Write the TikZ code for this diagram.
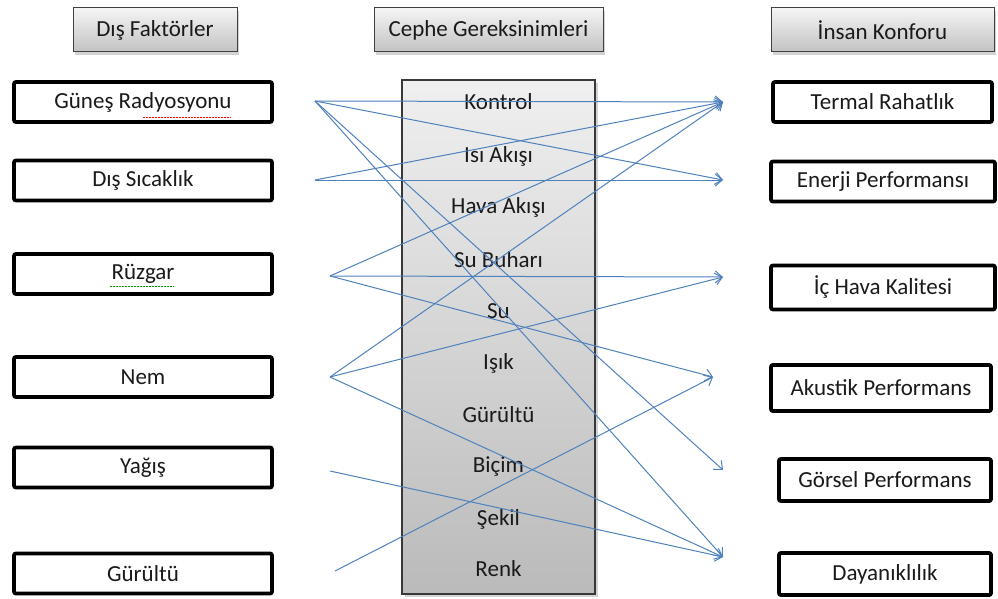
\documentclass[tikz,border=0pt]{standalone}
\usepackage{fontspec}
\setmainfont{Carlito}
\usetikzlibrary{arrows.meta,shadows,calc}
\definecolor{arrowblue}{HTML}{4F81BD}
\definecolor{txt}{HTML}{1A1A1A}
\tikzset{
  hdr/.style={draw=black!75, line width=1pt, top color=black!4, bottom color=black!24,
    minimum height=44pt, inner sep=0pt, text=txt,
    drop shadow={shadow xshift=2pt, shadow yshift=-3pt, opacity=0.35}},
  fbox/.style={draw=black, line width=3.8pt, rounded corners=2pt, fill=white,
    minimum height=40pt, inner sep=0pt, text=txt},
  req/.style={text=txt, inner sep=0pt},
  link/.style={draw=arrowblue, line width=1pt, -{Straight Barb[length=7pt,width=12pt,line width=1pt]}},
}
\begin{document}
\begin{tikzpicture}[x=1pt,y=-1pt,font=\fontsize{23}{27}\selectfont]
\useasboundingbox (0,0) rectangle (998,599);
% headers
\node[hdr, minimum width=164pt] (h1) at (155,30) {Dış Faktörler};
\node[hdr, minimum width=229pt] (h2) at (488.5,30) {Cephe Gereksinimleri};
\node[hdr, minimum width=223pt] (h3) at (882.5,30) {İnsan Konforu};
% left boxes
\node[fbox, minimum width=258pt] (l1) at (143,102) {Güneş Radyosyonu};
\node[fbox, minimum width=258pt] (l2) at (143,180.5) {Dış Sıcaklık};
\node[fbox, minimum width=258pt] (l3) at (143,274) {Rüzgar};
\node[fbox, minimum width=258pt] (l4) at (143,377) {Nem};
\node[fbox, minimum width=258pt] (l5) at (143,467.5) {Yağış};
\node[fbox, minimum width=258pt] (l6) at (143,573.5) {Gürültü};
% spell-check marks
\draw[red, line width=1pt, dash pattern=on 1.5pt off 1.5pt] (143,118) -- (231,118);
\draw[green!60!black, line width=1pt, dash pattern=on 1.5pt off 1.5pt] (110,286) -- (174,286);
% right boxes
\node[fbox, minimum width=219pt] (r1) at (882.5,102) {Termal Rahatlık};
\node[fbox, minimum width=224pt] (r2) at (883,181.5) {Enerji Performansı};
\node[fbox, minimum width=224pt, minimum height=44pt] (r3) at (883,287.5) {İç Hava Kalitesi};
\node[fbox, minimum width=220pt, minimum height=46pt] (r4) at (881,388) {Akustik Performans};
\node[fbox, minimum width=212pt, minimum height=42pt] (r5) at (885,480) {Görsel Performans};
\node[fbox, minimum width=212pt, minimum height=42pt] (r6) at (885,574) {Dayanıklılık};
% central column
\node[draw=black!78, line width=1.5pt, top color=black!6, bottom color=black!27,
  minimum width=193pt, minimum height=514pt, inner sep=0pt,
  drop shadow={shadow xshift=3pt, shadow yshift=-3pt, opacity=0.35}] (col) at (498.5,337) {};
\node[req] (c1) at (498.5,102) {Kontrol};
\node[req] (c2) at (498.5,156) {Isı Akışı};
\node[req] (c3) at (498.5,207) {Hava Akışı};
\node[req] (c4) at (498.5,260) {Su Buharı};
\node[req] (c5) at (498.5,311) {Su};
\node[req] (c6) at (498.5,363) {Işık};
\node[req] (c7) at (498.5,415) {Gürültü};
\node[req] (c8) at (498.5,467) {Biçim};
\node[req] (c9) at (498.5,519) {Şekil};
\node[req] (c10) at (498.5,569) {Renk};
% arrow end points
\coordinate (s1) at (315,101);
\coordinate (s2) at (315,180);
\coordinate (s3) at (330,276);
\coordinate (s4) at (330,377);
\coordinate (s5) at (330,471);
\coordinate (s6) at (335,571);
\coordinate (t1) at (723,102);
\coordinate (t2) at (723,180);
\coordinate (t3) at (723,277);
\coordinate (t4) at (713,377);
\coordinate (t5) at (723,470);
\coordinate (t6) at (723,557);
% links
\draw[link] (s1) -- (t1);
\draw[link] (s1) -- (t2);
\draw[link] (s1) -- (t5);
\draw[link] (s1) -- (t6);
\draw[link] (s2) -- (t1);
\draw[link] (s2) -- (t2);
\draw[link] (s3) -- (t1);
\draw[link] (s3) -- (t3);
\draw[link] (s3) -- (t4);
\draw[link] (s4) -- (t1);
\draw[link] (s4) -- (t3);
\draw[link] (s4) -- (t6);
\draw[link] (s5) -- (t6);
\draw[link] (s6) -- (t4);
\end{tikzpicture}
\end{document}
